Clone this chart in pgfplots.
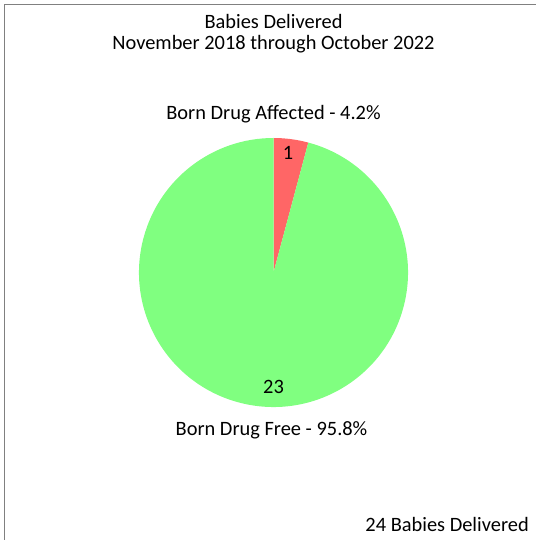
\documentclass[border=0pt]{standalone}
\usepackage{pgfplots}
\pgfplotsset{compat=1.18}
\usepackage{pgfplotstable}
\usepackage{fontspec}
\setmainfont{Carlito}
\definecolor{pred}{HTML}{FF6666}
\definecolor{pgreen}{HTML}{80FF80}
\definecolor{frame}{HTML}{808080}
\pgfplotstableread{
label value
Affected 1
Free 23
}\piedata
\begin{document}
\fontsize{15.3}{18}\selectfont
\begin{tikzpicture}
\pgfkeys{/pgf/number format/assume math mode=true}
\pgfplotstablegetelem{0}{value}\of\piedata \let\va\pgfplotsretval
\pgfplotstablegetelem{1}{value}\of\piedata \let\vb\pgfplotsretval
\pgfmathsetmacro{\tot}{\va+\vb}
\pgfmathsetmacro{\aA}{90-360*\va/\tot}
\pgfmathsetmacro{\aB}{\aA-360*\vb/\tot}
\pgfmathsetmacro{\pA}{100*\va/\tot}
\pgfmathsetmacro{\pB}{100*\vb/\tot}
\begin{axis}[
  scale only axis, width=402pt, height=405pt,
  xmin=0, xmax=536, ymin=0, ymax=540,
  hide axis, clip=false,
  /pgf/number format/assume math mode=true,
]
\fill[pred] (axis cs:273.5,267.5) -- (axis cs:273.5,402) arc[start angle=90, end angle=\aA, radius=100.875pt] -- cycle;
\fill[pgreen] (axis cs:273.5,267.5) -- ++(\aA:100.875pt) arc[start angle=\aA, end angle=\aB, radius=100.875pt] -- cycle;
\draw[frame, line width=1.1pt] (axis cs:4.5,0) -- (axis cs:4.5,535.5) -- (axis cs:536,535.5);
\node[align=center, font=\fontsize{15.3}{16}\selectfont] at (axis cs:273.5,506) {Babies Delivered\\November 2018 through October 2022};
\node at (axis cs:288,387) {\pgfmathprintnumber[fixed,precision=0]{\va}};
\node at (axis cs:273.5,153) {\pgfmathprintnumber[fixed,precision=0]{\vb}};
\node at (axis cs:273.5,426) {Born Drug Affected - \pgfmathprintnumber[fixed,precision=1]{\pA}\%};
\node at (axis cs:271.5,110) {Born Drug Free - \pgfmathprintnumber[fixed,precision=1]{\pB}\%};
\node[anchor=base east, inner sep=0pt] at (axis cs:529,8) {24 Babies Delivered};
\end{axis}
\pgfresetboundingbox
\useasboundingbox (0,0) rectangle (402pt,405pt);
\end{tikzpicture}
\end{document}
